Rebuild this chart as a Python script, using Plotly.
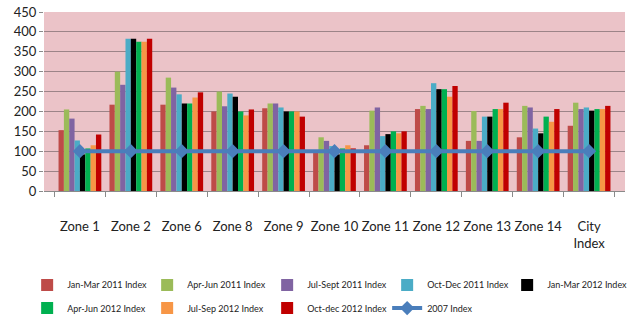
import plotly.graph_objects as go

zones = ["Zone 1", "Zone 2", "Zone 6", "Zone 8", "Zone 9", "Zone 10",
         "Zone 11", "Zone 12", "Zone 13", "Zone 14", "City Index"]
zone_labels = ["Zone 1", "Zone 2", "Zone 6", "Zone 8", "Zone 9", "Zone 10",
               "Zone 11", "Zone 12", "Zone 13", "Zone 14", "City<br>Index"]

jan_mar_2011 = [153, 217, 217, 200, 208, 98, 115, 206, 126, 135, 164]
apr_jun_2011 = [205, 300, 285, 250, 220, 135, 202, 214, 201, 214, 222]
jul_sep_2011 = [182, 267, 260, 213, 220, 126, 210, 206, 126, 210, 206]
oct_dec_2011 = [127, 383, 243, 245, 210, 113, 138, 271, 187, 157, 210]
jan_mar_2012 = [92, 383, 220, 237, 200, 92, 143, 256, 187, 145, 202]
apr_jun_2012 = [107, 375, 220, 200, 200, 107, 150, 256, 206, 187, 206]
jul_sep_2012 = [115, 375, 235, 190, 200, 115, 145, 237, 206, 174, 206]
oct_dec_2012 = [142, 383, 248, 205, 187, 107, 150, 264, 222, 206, 214]
index_2007 = [100, 100, 100, 100, 100, 100, 100, 100, 100, 100, 100]

series = [
    ("Jan-Mar 2011 Index", jan_mar_2011, "#BE4B48", "legend"),
    ("Apr-Jun 2011 Index", apr_jun_2011, "#9BBB59", "legend"),
    ("Jul-Sept 2011 Index", jul_sep_2011, "#8064A2", "legend"),
    ("Oct-Dec 2011 Index", oct_dec_2011, "#4BACC6", "legend"),
    ("Jan-Mar 2012 Index", jan_mar_2012, "#000000", "legend"),
    ("Apr-Jun 2012 Index", apr_jun_2012, "#00B050", "legend2"),
    ("Jul-Sep 2012 Index", jul_sep_2012, "#F79646", "legend2"),
    ("Oct-dec 2012 Index", oct_dec_2012, "#C00000", "legend2"),
]

FONT = "Lato, Roboto, sans-serif"

fig = go.Figure()
for name, vals, color, leg in series:
    fig.add_trace(go.Bar(x=zones, y=vals, name=name, marker_color=color,
                         marker_line_width=0, legend=leg))

fig.add_trace(go.Scatter(x=zones, y=index_2007, name="2007 Index", mode="lines+markers",
                         line=dict(color="#4A7EBB", width=4),
                         marker=dict(symbol="diamond", size=11, color="#4A7EBB"),
                         legend="legend2"))

fig.update_layout(
    width=639, height=325,
    margin=dict(l=44, r=14, t=12, b=134, autoexpand=False),
    paper_bgcolor="white",
    plot_bgcolor="#EBC3C8",
    barmode="group", bargap=0.16, bargroupgap=0,
    font=dict(family=FONT, color="#222222"),
    xaxis=dict(tickmode="array", tickvals=zones, ticktext=zone_labels,
               tickson="boundaries", ticks="outside", ticklen=5, tickcolor="#8a8a8a",
               showline=True, linecolor="#8a8a8a", linewidth=1, tickangle=0,
               tickfont=dict(size=13, family=FONT), ticklabelstandoff=23,
               showgrid=False),
    yaxis=dict(range=[0, 450], dtick=50, ticks="outside", ticklen=4, tickcolor="#8a8a8a",
               gridcolor="#9C8488", gridwidth=1.3, zeroline=False,
               tickfont=dict(size=13, family=FONT)),
    legend=dict(orientation="h", x=-0.029, xanchor="left", y=-0.525, yanchor="middle",
                entrywidth=75, entrywidthmode="pixels",
                font=dict(size=9, family=FONT), bgcolor="rgba(0,0,0,0)"),
    legend2=dict(orientation="h", x=-0.029, xanchor="left", y=-0.654, yanchor="middle",
                 entrywidth=75, entrywidthmode="pixels",
                 font=dict(size=9, family=FONT), bgcolor="rgba(0,0,0,0)"),
)

fig.write_html("out.html")
